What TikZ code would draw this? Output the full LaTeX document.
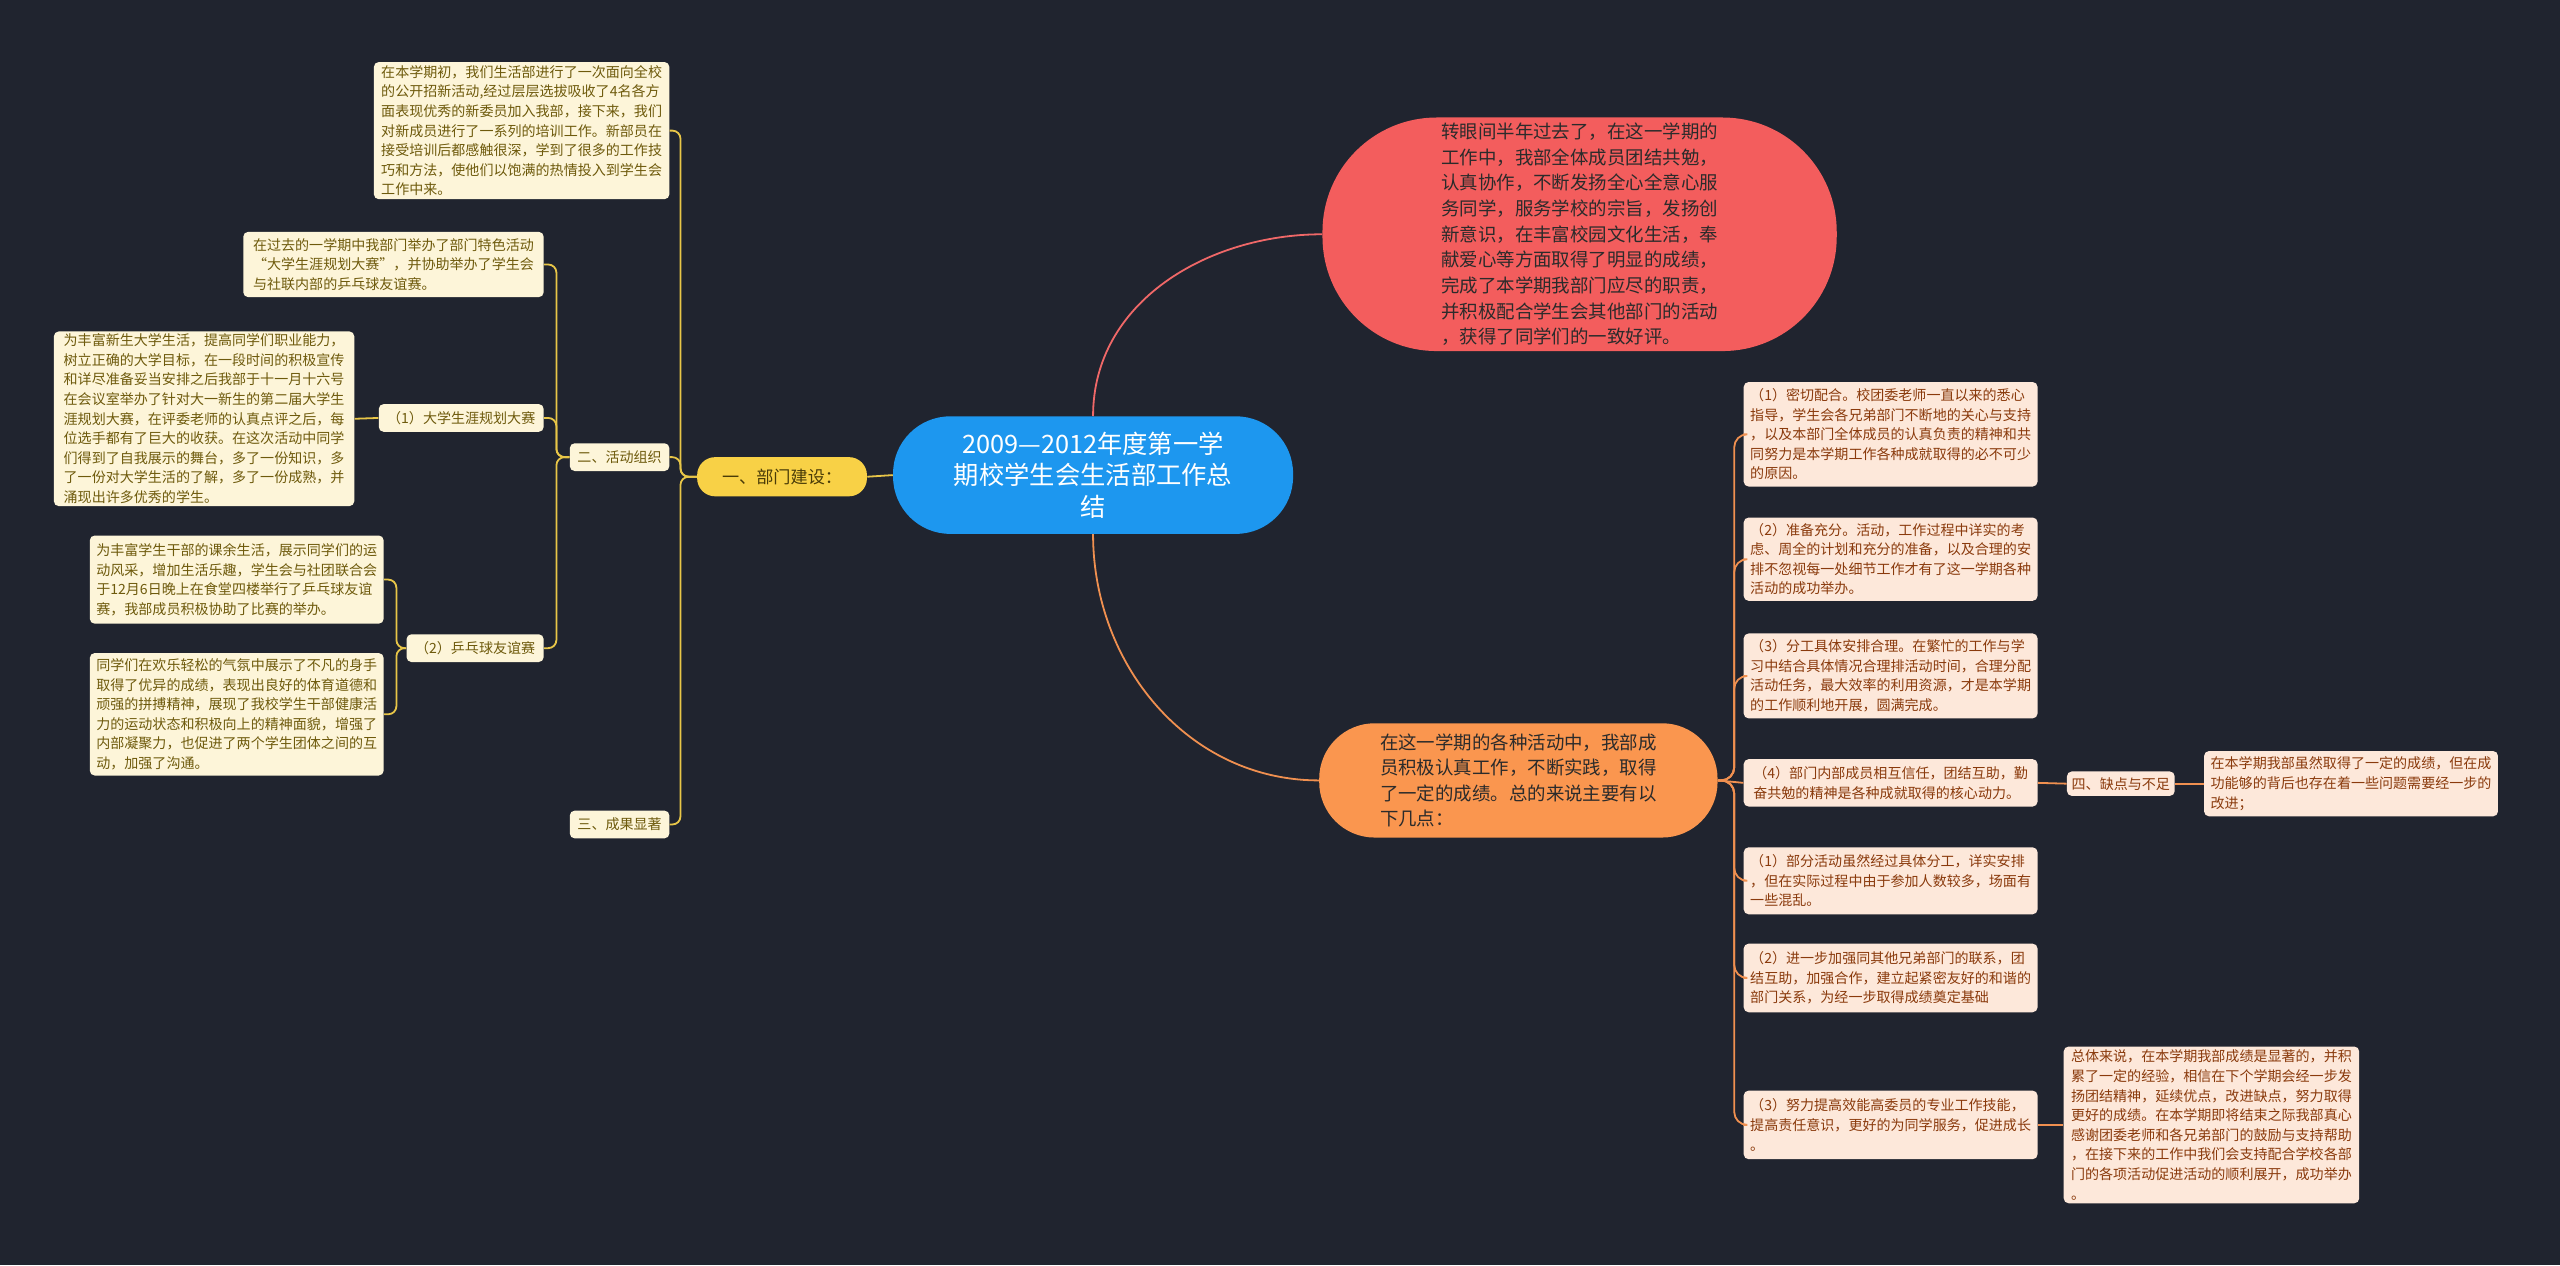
\documentclass[tikz,border=0pt]{standalone}
\usepackage{fontspec}
\setmainfont{Noto Sans CJK SC}
\definecolor{bg}{HTML}{20242F}
\definecolor{cblue}{HTML}{1D97EF}
\definecolor{rnode}{HTML}{F35D5D}
\definecolor{onode}{HTML}{FA964F}
\definecolor{ynode}{HTML}{F8D146}
\definecolor{ytxt}{HTML}{4A3C08}
\definecolor{cream}{HTML}{FDF5D9}
\definecolor{creamtxt}{HTML}{6E5A0C}
\definecolor{peach}{HTML}{FDE8DA}
\definecolor{peachtxt}{HTML}{8A3A0C}
\definecolor{yline}{HTML}{E8C648}
\definecolor{oline}{HTML}{F09050}
\definecolor{rline}{HTML}{F06868}
\definecolor{darktxt}{HTML}{2B2B2B}
\begin{document}
\begin{tikzpicture}[x=1pt,y=-1pt,
  box/.style={fill=cream, rounded corners=3pt, inner sep=0pt, align=left, font=\fontsize{8.6}{12}\selectfont, text=creamtxt},
  pbox/.style={fill=peach, rounded corners=3pt, inner sep=0pt, align=left, font=\fontsize{8.6}{12}\selectfont, text=peachtxt},
  yl/.style={draw=yline, line width=1.1pt, rounded corners=5pt},
  ol/.style={draw=oline, line width=1.1pt, rounded corners=8pt},
]
\fill[bg] (0,0) rectangle (1568,775);
\useasboundingbox (0,0) rectangle (1568,775);

% main nodes
\node[fill=cblue, rounded corners=35pt, minimum width=245, minimum height=72, text=white, align=center, font=\fontsize{15.5}{19.5}\selectfont] (c) at (669.5,291) {2009—2012年度第一学\\期校学生会生活部工作总\\结};
\node[fill=rnode, rounded corners=70pt, minimum width=315, minimum height=143, text=darktxt, align=left, font=\fontsize{11.3}{15.7}\selectfont] (r) at (967.5,143.5) {转眼间半年过去了，在这一学期的\\工作中，我部全体成员团结共勉，\\认真协作，不断发扬全心全意心服\\务同学，服务学校的宗旨，发扬创\\新意识，在丰富校园文化生活，奉\\献爱心等方面取得了明显的成绩，\\完成了本学期我部门应尽的职责，\\并积极配合学生会其他部门的活动\\，获得了同学们的一致好评。};
\node[fill=onode, rounded corners=34pt, minimum width=244, minimum height=70, text=darktxt, align=left, font=\fontsize{11.3}{15.7}\selectfont] (o) at (930,478) {在这一学期的各种活动中，我部成\\员积极认真工作，不断实践，取得\\了一定的成绩。总的来说主要有以\\下几点：};
\node[fill=ynode, rounded corners=11pt, minimum width=104, minimum height=24, text=ytxt, font=\fontsize{10.5}{12}\selectfont] (y) at (479,292) {一、部门建设：};

% left branch
\node[box, minimum width=181, minimum height=84] (a) at (319.5,80) {在本学期初，我们生活部进行了一次面向全校\\的公开招新活动,经过层层选拔吸收了4名各方\\面表现优秀的新委员加入我部，接下来，我们\\对新成员进行了一系列的培训工作。新部员在\\接受培训后都感触很深，学到了很多的工作技\\巧和方法，使他们以饱满的热情投入到学生会\\工作中来。};
\node[box, minimum width=61, minimum height=17] (n2) at (379.5,280) {二、活动组织};
\node[box, minimum width=61, minimum height=17] (n3) at (379.5,505) {三、成果显著};
\node[box, minimum width=184, minimum height=40] (b) at (241,162) {在过去的一学期中我部门举办了部门特色活动\\“大学生涯规划大赛”，并协助举办了学生会\\与社联内部的乒乓球友谊赛。};
\node[box, minimum width=101, minimum height=17] (s1) at (282.5,256) {（1）大学生涯规划大赛};
\node[box, minimum width=84, minimum height=17] (s2) at (291,397) {（2）乒乓球友谊赛};
\node[box, minimum width=184, minimum height=107] (cc) at (125,256.5) {为丰富新生大学生活，提高同学们职业能力，\\树立正确的大学目标，在一段时间的积极宣传\\和详尽准备妥当安排之后我部于十一月十六号\\在会议室举办了针对大一新生的第二届大学生\\涯规划大赛，在评委老师的认真点评之后，每\\位选手都有了巨大的收获。在这次活动中同学\\们得到了自我展示的舞台，多了一份知识，多\\了一份对大学生活的了解，多了一份成熟，并\\涌现出许多优秀的学生。};
\node[box, minimum width=180, minimum height=54] (d) at (145,355) {为丰富学生干部的课余生活，展示同学们的运\\动风采，增加生活乐趣，学生会与社团联合会\\于12月6日晚上在食堂四楼举行了乒乓球友谊\\赛，我部成员积极协助了比赛的举办。};
\node[box, minimum width=180, minimum height=75] (e) at (145,437.5) {同学们在欢乐轻松的气氛中展示了不凡的身手\\取得了优异的成绩，表现出良好的体育道德和\\顽强的拼搏精神，展现了我校学生干部健康活\\力的运动状态和积极向上的精神面貌，增强了\\内部凝聚力，也促进了两个学生团体之间的互\\动，加强了沟通。};

% right branch
\node[pbox, minimum width=180, minimum height=64] (r1) at (1158,266) {（1）密切配合。校团委老师一直以来的悉心\\指导，学生会各兄弟部门不断地的关心与支持\\，以及本部门全体成员的认真负责的精神和共\\同努力是本学期工作各种成就取得的必不可少\\的原因。};
\node[pbox, minimum width=180, minimum height=51] (r2) at (1158,342.5) {（2）准备充分。活动，工作过程中详实的考\\虑、周全的计划和充分的准备，以及合理的安\\排不忽视每一处细节工作才有了这一学期各种\\活动的成功举办。};
\node[pbox, minimum width=180, minimum height=52] (r3) at (1158,414) {（3）分工具体安排合理。在繁忙的工作与学\\习中结合具体情况合理排活动时间，合理分配\\活动任务，最大效率的利用资源，才是本学期\\的工作顺利地开展，圆满完成。};
\node[pbox, minimum width=180, minimum height=29] (r4) at (1158,479.5) {（4）部门内部成员相互信任，团结互助，勤\\奋共勉的精神是各种成就取得的核心动力。};
\node[pbox, minimum width=180, minimum height=41] (r5) at (1158,539.5) {（1）部分活动虽然经过具体分工，详实安排\\，但在实际过程中由于参加人数较多，场面有\\一些混乱。};
\node[pbox, minimum width=180, minimum height=42] (r6) at (1158,599) {（2）进一步加强同其他兄弟部门的联系，团\\结互助，加强合作，建立起紧密友好的和谐的\\部门关系，为经一步取得成绩奠定基础};
\node[pbox, minimum width=180, minimum height=42] (r7) at (1158,689) {（3）努力提高效能高委员的专业工作技能，\\提高责任意识，更好的为同学服务，促进成长\\。};
\node[pbox, minimum width=66, minimum height=15] (r4a) at (1299,480) {四、缺点与不足};
\node[pbox, minimum width=180, minimum height=40] (r4b) at (1440,480) {在本学期我部虽然取得了一定的成绩，但在成\\功能够的背后也存在着一些问题需要经一步的\\改进；};
\node[pbox, minimum width=181, minimum height=96] (r7a) at (1354.5,689) {总体来说，在本学期我部成绩是显著的，并积\\累了一定的经验，相信在下个学期会经一步发\\扬团结精神，延续优点，改进缺点，努力取得\\更好的成绩。在本学期即将结束之际我部真心\\感谢团委老师和各兄弟部门的鼓励与支持帮助\\，在接下来的工作中我们会支持配合学校各部\\门的各项活动促进活动的顺利展开，成功举办\\。};

% connectors
\draw[yl] (c.west) -- (y.east);
\draw[draw=rline, line width=1.1pt] (c.north) to[out=90,in=180] (r.west);
\draw[draw=oline, line width=1.1pt] (c.south) to[out=-90,in=180] (o.west);

\foreach \t in {a,n2,n3}{\draw[yl] (y.west) -- ++(-10,0) |- (\t.east);}
\foreach \t in {b,s1,s2}{\draw[yl] (n2.west) -- ++(-8,0) |- (\t.east);}
\draw[yl] (s1.west) -- (cc.east);
\foreach \t in {d,e}{\draw[yl] (s2.west) -- ++(-6,0) |- (\t.east);}

\foreach \t in {r1,r2,r3,r5,r6,r7}{\draw[ol] (o.east) -- ++(10,0) |- (\t.west);}
\draw[ol] (o.east) -- (r4.west);
\draw[ol] (r4.east) -- (r4a.west);
\draw[ol] (r4a.east) -- (r4b.west);
\draw[ol] (r7.east) -- (r7a.west);
\end{tikzpicture}
\end{document}
